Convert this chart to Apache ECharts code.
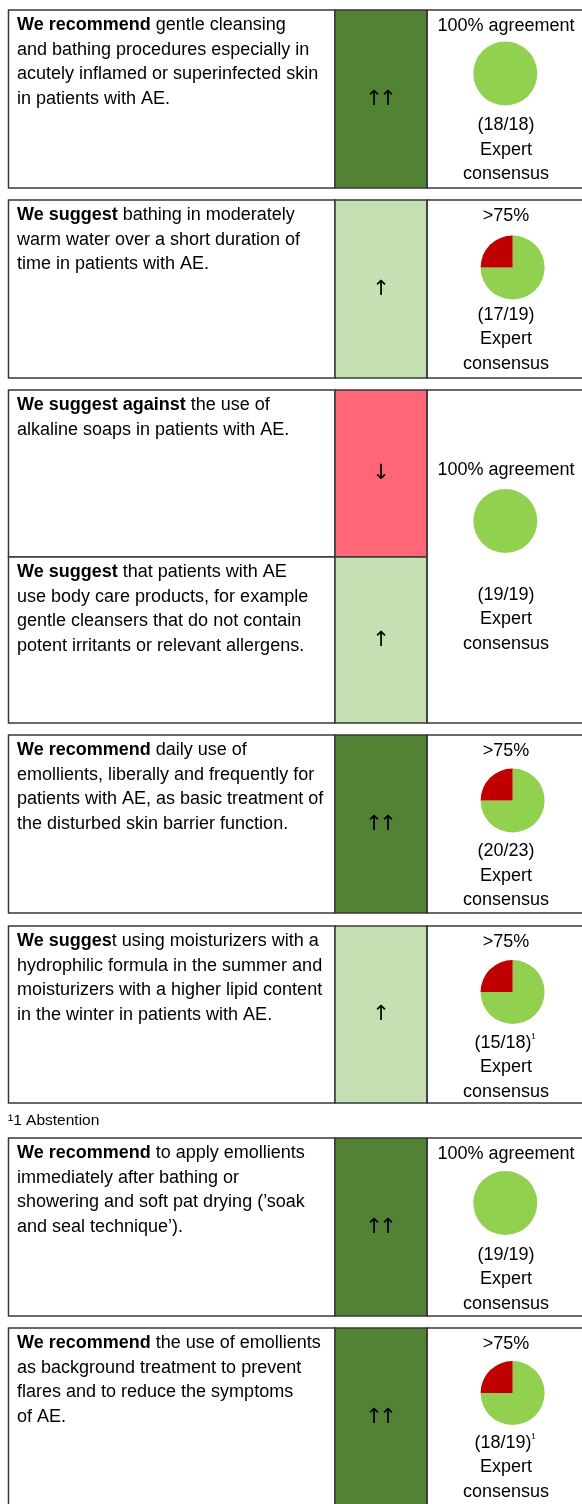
<!DOCTYPE html>
<html><head><meta charset="utf-8">
<script src="https://cdn.jsdelivr.net/npm/echarts@6/dist/echarts.min.js"></script>
<style>html,body{margin:0;padding:0;background:#fff}#c{width:582px;height:1504px}</style>
</head><body><div id="c"></div>
<script>
// ---------- data ----------
const leadBold = ['We recommend', 'We suggest', 'We suggest against', 'We suggest',
  'We recommend', 'We sugges', 'We recommend', 'We recommend'];
const statementLines = [
  [' gentle cleansing', 'and bathing procedures especially in', 'acutely inflamed or superinfected skin', 'in patients with AE.'],
  [' bathing in moderately', 'warm water over a short duration of', 'time in patients with AE.'],
  [' the use of', 'alkaline soaps in patients with AE.'],
  [' that patients with AE', 'use body care products, for example', 'gentle cleansers that do not contain', 'potent irritants or relevant allergens.'],
  [' daily use of', 'emollients, liberally and frequently for', 'patients with AE, as basic treatment of', 'the disturbed skin barrier function.'],
  ['t using moisturizers with a', 'hydrophilic formula in the summer and', 'moisturizers with a higher lipid content', 'in the winter in patients with AE.'],
  [' to apply emollients', 'immediately after bathing or', 'showering and soft pat drying (\u2019soak', 'and seal technique\u2019).'],
  [' the use of emollients', 'as background treatment to prevent', 'flares and to reduce the symptoms', 'of AE.']
];
const strength = ['\u2191\u2191', '\u2191', '\u2193', '\u2191', '\u2191\u2191', '\u2191', '\u2191\u2191', '\u2191\u2191'];
const groupRows = [[0], [1], [2, 3], [4], [5], [6], [7]];
const agreementLabel = ['100% agreement', '>75%', '100% agreement', '>75%', '>75%', '100% agreement', '>75%'];
const votesFor = [18, 17, 19, 20, 15, 19, 18];
const votesTotal = [18, 19, 19, 23, 18, 19, 19];
const voteNote = ['', '', '', '', '\u00b9', '', '\u00b9'];
const pieAgree = [100, 75, 100, 75, 75, 100, 75];
const pieDisagree = [0, 25, 0, 25, 25, 0, 25];
const consensusLines = ['Expert', 'consensus'];
const footnoteText = '\u00b91 Abstention';

// ---------- layout ----------
const rowTop = [10, 200, 390, 557, 735, 926, 1138, 1328];
const rowH = [178, 178, 167, 166, 178, 177, 178, 178];
const colX = [8.5, 335, 427, 584];
const headerDy = [16, 16, 80, 16, 16, 16, 16];
const pieDy = [63.5, 67.5, 131, 65.5, 66, 65, 65];
const votesDy = [115.5, 115, 205, 116.5, 117, 117, 115];
const lineH = 24.4;
const FONT = 'Liberation Sans, Arial, Helvetica, sans-serif';
const FS = 18;
const FS_R = 18;
const C = {
  border: '#383838', strong: '#548235', weak: '#c5e0b3', against: '#ff6677',
  agree: '#92d050', disagree: '#c00000', text: '#000'
};
function strengthColor(s) {
  if (s.indexOf('\u2193') >= 0) return C.against;
  return s.length > 1 ? C.strong : C.weak;
}

const graphics = [];
const series = [];

// rows (statement + strength cells)
leadBold.forEach((b, i) => {
  const y0 = rowTop[i], h = rowH[i];
  graphics.push({ type: 'rect', shape: { x: colX[0], y: y0, width: colX[1] - colX[0], height: h },
    style: { fill: '#fff', stroke: C.border, lineWidth: 1.5 }, z: 1 });
  graphics.push({ type: 'rect', shape: { x: colX[1], y: y0, width: colX[2] - colX[1], height: h },
    style: { fill: strengthColor(strength[i]), stroke: C.border, lineWidth: 1.5 }, z: 1 });
  const lines = statementLines[i].slice();
  const txt = '{b|' + b + '}' + lines[0] + (lines.length > 1 ? '\n' + lines.slice(1).join('\n') : '');
  graphics.push({ type: 'text', x: 17, y: y0 + 15.5 - lineH / 2, z: 5,
    style: { text: txt, fill: C.text, fontSize: FS, fontFamily: FONT, lineHeight: lineH,
      align: 'left', verticalAlign: 'top', textAlign: 'left', textVerticalAlign: 'top',
      rich: { b: { fontWeight: 'bold', fontSize: FS, fontFamily: FONT, lineHeight: lineH, fill: C.text } } } });
  const arrows = strength[i].split('');
  arrows.forEach((a, k) => {
    graphics.push({ type: 'text', x: (colX[1] + colX[2]) / 2 + (k - (arrows.length - 1) / 2) * 14, y: y0 + h / 2 + 0.5, z: 5,
      style: { text: a, fill: C.text, fontSize: 21, fontFamily: 'DejaVu Sans, sans-serif', align: 'center', verticalAlign: 'middle',
        textAlign: 'center', textVerticalAlign: 'middle' } });
  });
});

// groups (consensus cell + pie)
groupRows.forEach((rows, g) => {
  const first = rows[0], last = rows[rows.length - 1];
  const y0 = rowTop[first], y1 = rowTop[last] + rowH[last];
  graphics.push({ type: 'rect', shape: { x: colX[2], y: y0, width: colX[3] - colX[2], height: y1 - y0 },
    style: { fill: 'none', stroke: C.border, lineWidth: 1.5 }, z: 2 });
  const cx = 506;
  graphics.push({ type: 'text', x: cx, y: y0 + headerDy[g], z: 5,
    style: { text: agreementLabel[g], fill: C.text, fontSize: FS_R, fontFamily: FONT, align: 'center', verticalAlign: 'middle',
      textAlign: 'center', textVerticalAlign: 'middle' } });
  const vt = ['(' + votesFor[g] + '/' + votesTotal[g] + ')'].concat(consensusLines);
  const shift = voteNote[g] ? -3 : 0;
  vt.forEach((t, k) => {
    graphics.push({ type: 'text', x: cx + (k === 0 ? shift : 0), y: y0 + votesDy[g] + k * lineH, z: 5,
      style: { text: t, fill: C.text, fontSize: FS_R, fontFamily: FONT, align: 'center', verticalAlign: 'middle',
        textAlign: 'center', textVerticalAlign: 'middle' } });
  });
  if (voteNote[g]) {
    graphics.push({ type: 'text', x: cx + shift + 28.5, y: y0 + votesDy[g] - 4.5, z: 5,
      style: { text: voteNote[g], fill: C.text, fontSize: 12, fontFamily: FONT, align: 'left', verticalAlign: 'middle',
        textAlign: 'left', textVerticalAlign: 'middle' } });
  }
  const full = pieDisagree[g] === 0;
  series.push({
    type: 'pie', silent: true, animation: false, radius: 32,
    center: [full ? 505.3 : 512.6, y0 + pieDy[g]], startAngle: 90, clockwise: true,
    label: { show: false }, labelLine: { show: false }, emphasis: { disabled: true },
    itemStyle: { borderWidth: 0 }, minAngle: 0, avoidLabelOverlap: false, z: 4,
    data: [
      { name: 'agree', value: pieAgree[g], itemStyle: { color: C.agree } },
      { name: 'disagree', value: pieDisagree[g], itemStyle: { color: C.disagree } }
    ]
  });
});

// footnote
graphics.push({ type: 'text', x: 8, y: 1121, z: 5,
  style: { text: footnoteText, fill: C.text, fontSize: 15.5, fontFamily: FONT, align: 'left', verticalAlign: 'middle',
    textAlign: 'left', textVerticalAlign: 'middle' } });

const chart = echarts.init(document.getElementById('c'), null, { renderer: 'canvas' });
chart.setOption({
  backgroundColor: '#fff',
  animation: false,
  tooltip: { show: false },
  graphic: { elements: graphics },
  series: series
});
</script>
</body></html>
